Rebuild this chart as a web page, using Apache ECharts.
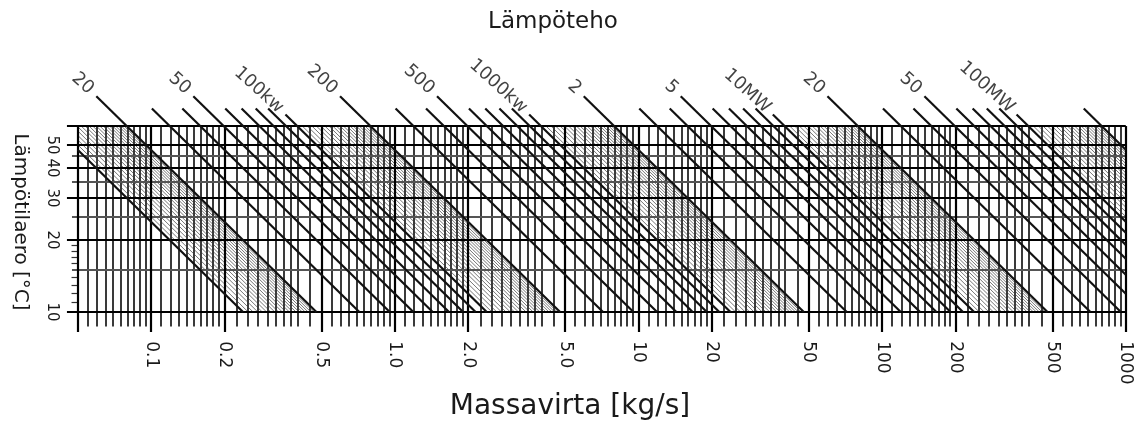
<!DOCTYPE html>
<html>
<head>
<meta charset="utf-8">
<title>Lämpöteho</title>
<script src="https://cdn.jsdelivr.net/npm/echarts@6/dist/echarts.min.js"></script>
<style>
    html, body { margin: 0; padding: 0; background: #fff; }
    #chart { width: 1148px; height: 421px; }
</style>
</head>
<body>
<div id="chart"></div>
<script>
window.addEventListener('DOMContentLoaded', function () {
    // === Data
    // P [kW] = C_WATER * m [kg/s] * dT [K]
    const C_WATER = 4.19;

    const X_MIN = 0.05;
    const X_MAX = 1000;
    const Y_MIN = 10;
    const Y_MAX = 60;

    const X_TICK_VALUES = [0.1, 0.2, 0.5, 1, 2, 5, 10, 20, 50, 100, 200, 500, 1000];
    const X_TICK_TEXT = ['0.1', '0.2', '0.5', '1.0', '2.0', '5.0', '10', '20', '50', '100', '200', '500', '1000'];
    const Y_TICK_VALUES = [10, 20, 30, 40, 50];

    // vertical grid: steps inside every decade
    const X_DECADES = [0.01, 0.1, 1, 10, 100, 1000];
    const X_GRID_STEPS = [1, 1.1, 1.2, 1.3, 1.4, 1.5, 1.6, 1.7, 1.8, 1.9,
        2, 2.25, 2.5, 2.75, 3, 3.25, 3.5, 3.75, 4, 4.5,
        5, 5.5, 6, 6.5, 7, 7.5, 8, 8.5, 9, 9.5];
    const X_MAJOR_STEPS = [1, 2, 5];

    // horizontal grid
    const Y_GRID_MAJOR = [10, 20, 30, 40, 50, 60];
    const Y_GRID_MINOR = [15, 25, 35, 45];
    const Y_SMALL_TICKS = [11, 12, 13, 14, 16, 17, 18, 19];

    // power lines, kW
    const POWER_DECADES = [10, 100, 1000, 10000, 100000];
    const POWER_STEPS = [1, 2, 3, 4, 5, 6, 7, 8, 9];
    const HATCH_STEPS = [1.05, 1.1, 1.15, 1.2, 1.25, 1.3, 1.35, 1.4, 1.45, 1.5,
        1.55, 1.6, 1.65, 1.7, 1.75, 1.8, 1.85, 1.9, 1.95];

    const LABEL_POWERS = [20, 50, 100, 200, 500, 1000, 2000, 5000, 10000, 20000, 50000, 100000];
    const LABEL_TEXT = ['20', '50', '100kw', '200', '500', '1000kw', '2', '5', '10MW', '20', '50', '100MW'];

    // === Helpers

    function near(a, b) {
        return Math.abs(a / b - 1) < 1e-6;
    }

    function hasUnit(text) {
        return /[a-zA-Z]/.test(text);
    }

    // constant power line from dT = tTop down to dT = 10, cut to the x range
    function powerSegment(p, tTop) {
        let start = [p / (C_WATER * tTop), tTop];
        if (start[0] < X_MIN) start = [X_MIN, p / (C_WATER * X_MIN)];
        if (start[0] > X_MAX || start[1] < Y_MIN) return null;
        let end = [p / (C_WATER * Y_MIN), Y_MIN];
        if (end[0] > X_MAX) end = [X_MAX, p / (C_WATER * X_MAX)];
        if (end[1] >= start[1]) return null;
        return { coords: [start, end] };
    }

    function buildPowerLines() {
        const out = [];
        POWER_DECADES.forEach(d => {
            POWER_STEPS.forEach(s => {
                const p = s * d;
                const idx = LABEL_POWERS.findIndex(v => near(v, p));
                let tTop = 71;
                if (idx >= 0) tTop = hasUnit(LABEL_TEXT[idx]) ? 67 : 80;
                const seg = powerSegment(p, tTop);
                if (seg) out.push(seg);
            });
        });
        return out;
    }

    function buildHatchLines() {
        const out = [];
        POWER_DECADES.forEach(d => {
            HATCH_STEPS.forEach(s => {
                const seg = powerSegment(s * d, Y_MAX);
                if (seg) out.push(seg);
            });
        });
        return out;
    }

    function buildVerticals(major) {
        const out = [];
        X_DECADES.forEach(d => {
            X_GRID_STEPS.forEach(s => {
                const m = s * d;
                if (m < X_MIN * 0.999 || m > X_MAX * 1.001) return;
                const isMajor = X_MAJOR_STEPS.includes(s);
                if (isMajor !== major) return;
                const bottom = major ? 8.25 : 8.7;
                out.push({ coords: [[m, Y_MAX], [m, bottom]] });
            });
        });
        return out;
    }

    function buildHorizontals(values, left) {
        return values.map(t => ({ coords: [[left, t], [X_MAX, t]] }));
    }

    function buildSmallTicks() {
        return Y_SMALL_TICKS.map(t => ({ coords: [[0.0472, t], [X_MIN, t]] }));
    }

    function buildLabels() {
        return LABEL_POWERS.map((p, i) => {
            const t = hasUnit(LABEL_TEXT[i]) ? 70 : 84;
            return { name: LABEL_TEXT[i], value: [p / (C_WATER * t), t] };
        });
    }

    function linesSeries(data, color, width) {
        return {
            type: 'lines',
            coordinateSystem: 'cartesian2d',
            polyline: false,
            clip: false,
            silent: true,
            animation: false,
            data: data,
            lineStyle: { color: color, width: width, opacity: 1, type: 'solid' }
        };
    }

    function formatX(value) {
        const i = X_TICK_VALUES.findIndex(v => near(v, value));
        return i >= 0 ? X_TICK_TEXT[i] : '';
    }

    // === Chart
    const chart = echarts.init(document.getElementById('chart'));

    const option = {
        backgroundColor: '#ffffff',
        animation: false,
        grid: { left: 64.1, right: 22.2, top: 73, bottom: 85.8 },
        xAxis: {
            type: 'log',
            logBase: 10,
            min: 0.044,
            max: X_MAX,
            axisLine: { show: false },
            axisTick: { show: false },
            splitLine: { show: false },
            axisLabel: {
                customValues: X_TICK_VALUES,
                rotate: -90,
                margin: 6,
                fontFamily: 'DejaVu Sans',
                fontSize: 17,
                color: '#1a1a1a',
                formatter: formatX
            }
        },
        yAxis: {
            type: 'log',
            logBase: 10,
            min: 8,
            max: 100,
            axisLine: { show: false },
            axisTick: { show: false },
            splitLine: { show: false },
            axisLabel: {
                customValues: Y_TICK_VALUES,
                rotate: -90,
                margin: 5,
                fontFamily: 'DejaVu Sans',
                fontSize: 15,
                color: '#1a1a1a',
                formatter: v => String(Math.round(v))
            }
        },
        graphic: [
            {
                type: 'text', x: 553, y: 22,
                style: { text: 'Lämpöteho', font: '23px "DejaVu Sans"', fill: '#1a1a1a', align: 'center', verticalAlign: 'middle' }
            },
            {
                type: 'text', x: 570, y: 407,
                style: { text: 'Massavirta [kg/s]', font: '28px "DejaVu Sans"', fill: '#1a1a1a', align: 'center', verticalAlign: 'middle' }
            },
            {
                type: 'text', x: 20, y: 222, rotation: -Math.PI / 2,
                style: { text: 'Lämpötilaero [°C]', font: '20px "DejaVu Sans"', fill: '#1a1a1a', align: 'center', verticalAlign: 'middle' }
            }
        ],
        series: [
            linesSeries(buildHatchLines(), '#777', 1),
            linesSeries(buildVerticals(false), '#3a3a3a', 2),
            linesSeries(buildHorizontals(Y_GRID_MINOR, 0.0474), '#555', 1.8),
            linesSeries(buildSmallTicks(), '#333', 1.2),
            linesSeries(buildVerticals(true), '#000', 2.2),
            linesSeries(buildHorizontals(Y_GRID_MAJOR, 0.0452), '#000', 2.2),
            linesSeries(buildPowerLines(), '#111', 2.2),
            {
                type: 'scatter',
                symbolSize: 1,
                silent: true,
                animation: false,
                itemStyle: { color: 'rgba(0,0,0,0)' },
                data: buildLabels(),
                label: {
                    show: true,
                    position: 'inside',
                    formatter: '{b}',
                    align: 'right',
                    verticalAlign: 'middle',
                    rotate: -42,
                    fontFamily: 'DejaVu Sans',
                    fontSize: 18,
                    color: '#111'
                }
            }
        ]
    };

    chart.setOption(option);
});
</script>
</body>
</html>
